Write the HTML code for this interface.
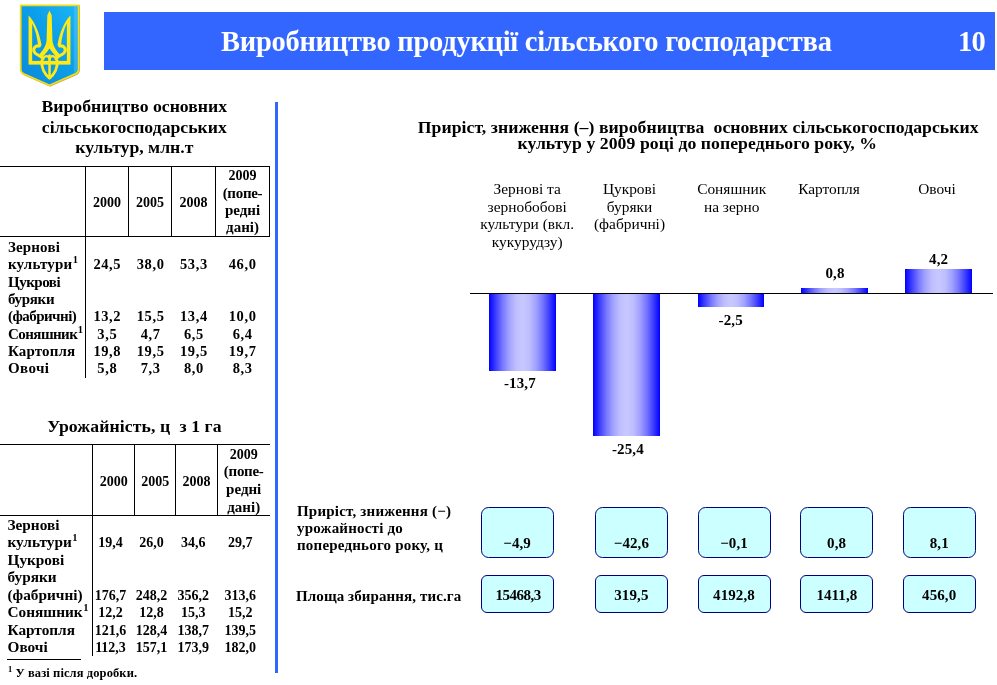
<!DOCTYPE html>
<html lang="uk">
<head>
<meta charset="utf-8">
<title>Виробництво продукції сільського господарства</title>
<style>
html,body{margin:0;padding:0;background:#fff;}
body{width:997px;height:685px;position:relative;overflow:hidden;font-family:"Liberation Serif",serif;color:#000;}
.a{position:absolute;}
.t{position:absolute;white-space:pre;line-height:1;font-weight:bold;}
.r{font-weight:normal;}
.hl{position:absolute;height:1px;background:#000;}
.vl{position:absolute;width:1px;background:#000;}
.bar{position:absolute;background:linear-gradient(to right,#0000ff 0%,#3e3eff 10%,#7676ff 20%,#a2a2ff 30%,#bebeff 40%,#c8c8ff 50%,#bebeff 60%,#a2a2ff 70%,#7676ff 80%,#3e3eff 90%,#0000ff 100%);}
.box{position:absolute;box-sizing:border-box;background:#ccffff;border:1px solid #000080;}
.b1{border-radius:7.5px;}
.b2{border-radius:6px;}
sup.s{font-size:10.5px;line-height:0;vertical-align:baseline;position:relative;top:-6px;letter-spacing:0;margin-left:.5px;}
</style>
</head>
<body>
<!-- header -->
<div class="a" style="left:104px;top:12px;width:890.5px;height:57.5px;background:#3366ff;"></div>
<div class="t" style="left:221px;top:28px;font-size:28.5px;color:#fff;letter-spacing:-.27px;">Виробництво продукції сільського господарства</div>
<div class="t" style="left:958px;top:28px;font-size:28.5px;color:#fff;letter-spacing:-.8px;">10</div>
<!-- emblem -->
<svg class="a" style="left:10px;top:0px;" width="80" height="95" viewBox="0 0 577 685">
<defs>
<linearGradient id="sg" x1="1" y1="0" x2="0" y2="1">
<stop offset="0" stop-color="#1cb6f8"/><stop offset="0.45" stop-color="#0c9ee9"/><stop offset="1" stop-color="#0a88da"/>
</linearGradient>
</defs>
<path d="M77,38 H495 V495 Q495,522 468,535 L285,615 L102,535 Q77,522 77,495 Z" transform="translate(4,4)" fill="none" stroke="#9c8a20" stroke-width="12" stroke-linejoin="round" opacity=".75"/>
<path d="M77,38 H495 V495 Q495,522 468,535 L285,615 L102,535 Q77,522 77,495 Z" fill="url(#sg)" stroke="#f4da18" stroke-width="13" stroke-linejoin="round"/>
<path d="M462,46 H488 V496 Q488,514 470,524 L462,528 Z" fill="#7fdcff" opacity=".28"/>
<g fill="#ffe916" stroke="none">
<path d="M134,112 C180,158 212,238 228,326 L204,338 C197,272 183,215 160,170 L160,440 L134,440 Z"/>
<path d="M436,112 C390,158 358,238 342,326 L366,338 C373,272 387,215 410,170 L410,440 L436,440 Z"/>
<rect x="134" y="439" width="302" height="27"/>
<path d="M285,76 L301,112 L306,290 C310,332 336,368 358,392 L336,412 C310,386 285,350 285,350 C285,350 260,386 234,412 L212,392 C234,368 260,332 264,290 L269,112 Z"/>
</g>
<g fill="none" stroke="#ffe916" stroke-linecap="round">
<path d="M212,332 C182,326 162,350 176,376 C188,398 220,398 238,424" stroke-width="22"/>
<path d="M358,332 C388,326 408,350 394,376 C382,398 350,398 332,424" stroke-width="22"/>
<path d="M230,440 C226,492 252,538 285,562 C318,538 344,492 340,440" stroke-width="22"/>
<path d="M285,400 V556" stroke-width="18"/>
<path d="M234,432 C246,396 278,396 285,426 C292,396 324,396 336,432" stroke-width="16"/>
</g>
</svg>

<!-- vertical blue divider -->
<div class="a" style="left:275px;top:102px;width:3px;height:571px;background:#3366ff;"></div>
<!-- left heading 1 -->
<div class="t" style="left:4.3px;width:260px;text-align:center;top:98px;font-size:17.7px;">Виробництво основних</div>
<div class="t" style="left:4.3px;width:260px;text-align:center;top:119px;font-size:17.7px;">сільськогосподарських</div>
<div class="t" style="left:4.3px;width:260px;text-align:center;top:139px;font-size:17.7px;">культур, млн.т</div>
<!-- table 1 lines -->
<div class="hl" style="left:0px;top:166px;width:270px;"></div>
<div class="hl" style="left:0px;top:236px;width:270px;"></div>
<div class="vl" style="left:85px;top:166px;height:212px;"></div>
<div class="vl" style="left:128px;top:166px;height:70px;"></div>
<div class="vl" style="left:171px;top:166px;height:70px;"></div>
<div class="vl" style="left:215px;top:166px;height:70px;"></div>
<div class="vl" style="left:269px;top:166px;height:71px;"></div>
<!-- table 1 header -->
<div class="t" style="left:86px;width:42px;text-align:center;top:196px;font-size:14px;">2000</div>
<div class="t" style="left:129px;width:42px;text-align:center;top:196px;font-size:14px;">2005</div>
<div class="t" style="left:172.5px;width:42px;text-align:center;top:196px;font-size:14px;">2008</div>
<div class="t" style="left:216.5px;width:52px;text-align:center;top:169px;font-size:14px;">2009</div>
<div class="t" style="left:216.5px;width:52px;text-align:center;top:186px;font-size:15px;letter-spacing:-.3px;">(попе-</div>
<div class="t" style="left:216.5px;width:52px;text-align:center;top:203px;font-size:15px;">редні</div>
<div class="t" style="left:216.5px;width:52px;text-align:center;top:220px;font-size:15px;">дані)</div>
<!-- table 1 body -->
<div class="t" style="left:8px;top:240px;font-size:15px;letter-spacing:0.14px;">Зернові</div>
<div class="t" style="left:8px;top:257px;font-size:15px;letter-spacing:0.15px;">культури<sup class="s">1</sup></div>
<div class="t" style="left:8px;top:275px;font-size:15px;letter-spacing:-0.5px;">Цукрові</div>
<div class="t" style="left:8px;top:292px;font-size:15px;letter-spacing:-0.33px;">буряки</div>
<div class="t" style="left:8px;top:309px;font-size:15px;letter-spacing:-0.54px;">(фабричні)</div>
<div class="t" style="left:8px;top:327px;font-size:15px;letter-spacing:-0.55px;">Соняшник<sup class="s">1</sup></div>
<div class="t" style="left:8px;top:344px;font-size:15px;letter-spacing:0.15px;">Картопля</div>
<div class="t" style="left:8px;top:361px;font-size:15px;letter-spacing:0.4px;">Овочі</div>
<div class="t" style="left:86.3px;width:42px;text-align:center;top:257px;font-size:14.5px;letter-spacing:.6px;">24,5</div>
<div class="t" style="left:129.6px;width:42px;text-align:center;top:257px;font-size:14.5px;letter-spacing:.6px;">38,0</div>
<div class="t" style="left:172.9px;width:42px;text-align:center;top:257px;font-size:14.5px;letter-spacing:.6px;">53,3</div>
<div class="t" style="left:221.6px;width:42px;text-align:center;top:257px;font-size:14.5px;letter-spacing:.6px;">46,0</div>
<div class="t" style="left:86.3px;width:42px;text-align:center;top:309px;font-size:14.5px;letter-spacing:.6px;">13,2</div>
<div class="t" style="left:129.6px;width:42px;text-align:center;top:309px;font-size:14.5px;letter-spacing:.6px;">15,5</div>
<div class="t" style="left:172.9px;width:42px;text-align:center;top:309px;font-size:14.5px;letter-spacing:.6px;">13,4</div>
<div class="t" style="left:221.6px;width:42px;text-align:center;top:309px;font-size:14.5px;letter-spacing:.6px;">10,0</div>
<div class="t" style="left:86.3px;width:42px;text-align:center;top:327px;font-size:14.5px;letter-spacing:.6px;">3,5</div>
<div class="t" style="left:129.6px;width:42px;text-align:center;top:327px;font-size:14.5px;letter-spacing:.6px;">4,7</div>
<div class="t" style="left:172.9px;width:42px;text-align:center;top:327px;font-size:14.5px;letter-spacing:.6px;">6,5</div>
<div class="t" style="left:221.6px;width:42px;text-align:center;top:327px;font-size:14.5px;letter-spacing:.6px;">6,4</div>
<div class="t" style="left:86.3px;width:42px;text-align:center;top:344px;font-size:14.5px;letter-spacing:.6px;">19,8</div>
<div class="t" style="left:129.6px;width:42px;text-align:center;top:344px;font-size:14.5px;letter-spacing:.6px;">19,5</div>
<div class="t" style="left:172.9px;width:42px;text-align:center;top:344px;font-size:14.5px;letter-spacing:.6px;">19,5</div>
<div class="t" style="left:221.6px;width:42px;text-align:center;top:344px;font-size:14.5px;letter-spacing:.6px;">19,7</div>
<div class="t" style="left:86.3px;width:42px;text-align:center;top:361px;font-size:14.5px;letter-spacing:.6px;">5,8</div>
<div class="t" style="left:129.6px;width:42px;text-align:center;top:361px;font-size:14.5px;letter-spacing:.6px;">7,3</div>
<div class="t" style="left:172.9px;width:42px;text-align:center;top:361px;font-size:14.5px;letter-spacing:.6px;">8,0</div>
<div class="t" style="left:221.6px;width:42px;text-align:center;top:361px;font-size:14.5px;letter-spacing:.6px;">8,3</div>
<!-- left heading 2 -->
<div class="t" style="left:4.5px;width:260px;text-align:center;top:418px;font-size:17.7px;letter-spacing:.1px;">Урожайність, ц  з 1 га</div>
<!-- table 2 lines -->
<div class="hl" style="left:0px;top:444px;width:270px;"></div>
<div class="hl" style="left:0px;top:515px;width:270px;"></div>
<div class="vl" style="left:92px;top:444px;height:212px;"></div>
<div class="vl" style="left:134px;top:444px;height:71px;"></div>
<div class="vl" style="left:175px;top:444px;height:71px;"></div>
<div class="vl" style="left:217px;top:444px;height:71px;"></div>
<!-- table 2 header -->
<div class="t" style="left:92.8px;width:42px;text-align:center;top:475px;font-size:14px;">2000</div>
<div class="t" style="left:134.2px;width:42px;text-align:center;top:475px;font-size:14px;">2005</div>
<div class="t" style="left:175.6px;width:42px;text-align:center;top:475px;font-size:14px;">2008</div>
<div class="t" style="left:217.7px;width:52px;text-align:center;top:448px;font-size:14px;">2009</div>
<div class="t" style="left:217.7px;width:52px;text-align:center;top:464px;font-size:15px;letter-spacing:-.3px;">(попе-</div>
<div class="t" style="left:217.7px;width:52px;text-align:center;top:482px;font-size:15px;">редні</div>
<div class="t" style="left:217.7px;width:52px;text-align:center;top:500px;font-size:15px;">дані)</div>
<!-- table 2 body -->
<div class="t" style="left:7.5px;top:517px;font-size:15.3px;">Зернові</div>
<div class="t" style="left:7.5px;top:534px;font-size:15.3px;">культури<sup class="s">1</sup></div>
<div class="t" style="left:7.5px;top:552px;font-size:15.3px;">Цукрові</div>
<div class="t" style="left:7.5px;top:569px;font-size:15.3px;">буряки</div>
<div class="t" style="left:7.5px;top:587px;font-size:15.3px;">(фабричні)</div>
<div class="t" style="left:7.5px;top:604px;font-size:15.3px;">Соняшник<sup class="s">1</sup></div>
<div class="t" style="left:7.5px;top:622px;font-size:15.3px;">Картопля</div>
<div class="t" style="left:7.5px;top:639px;font-size:15.3px;">Овочі</div>
<div class="t" style="left:88.5px;width:44px;text-align:center;top:536px;font-size:14px;">19,4</div>
<div class="t" style="left:129.5px;width:44px;text-align:center;top:536px;font-size:14px;">26,0</div>
<div class="t" style="left:171.3px;width:44px;text-align:center;top:536px;font-size:14px;">34,6</div>
<div class="t" style="left:218.2px;width:44px;text-align:center;top:536px;font-size:14px;">29,7</div>
<div class="t" style="left:88.5px;width:44px;text-align:center;top:589px;font-size:14px;">176,7</div>
<div class="t" style="left:129.5px;width:44px;text-align:center;top:589px;font-size:14px;">248,2</div>
<div class="t" style="left:171.3px;width:44px;text-align:center;top:589px;font-size:14px;">356,2</div>
<div class="t" style="left:218.2px;width:44px;text-align:center;top:589px;font-size:14px;">313,6</div>
<div class="t" style="left:88.5px;width:44px;text-align:center;top:606px;font-size:14px;">12,2</div>
<div class="t" style="left:129.5px;width:44px;text-align:center;top:606px;font-size:14px;">12,8</div>
<div class="t" style="left:171.3px;width:44px;text-align:center;top:606px;font-size:14px;">15,3</div>
<div class="t" style="left:218.2px;width:44px;text-align:center;top:606px;font-size:14px;">15,2</div>
<div class="t" style="left:88.5px;width:44px;text-align:center;top:624px;font-size:14px;">121,6</div>
<div class="t" style="left:129.5px;width:44px;text-align:center;top:624px;font-size:14px;">128,4</div>
<div class="t" style="left:171.3px;width:44px;text-align:center;top:624px;font-size:14px;">138,7</div>
<div class="t" style="left:218.2px;width:44px;text-align:center;top:624px;font-size:14px;">139,5</div>
<div class="t" style="left:88.5px;width:44px;text-align:center;top:641px;font-size:14px;">112,3</div>
<div class="t" style="left:129.5px;width:44px;text-align:center;top:641px;font-size:14px;">157,1</div>
<div class="t" style="left:171.3px;width:44px;text-align:center;top:641px;font-size:14px;">173,9</div>
<div class="t" style="left:218.2px;width:44px;text-align:center;top:641px;font-size:14px;">182,0</div>
<!-- footnote -->
<div class="hl" style="left:7px;top:659px;width:74px;"></div>
<div class="t" style="left:7.5px;top:667px;font-size:12.5px;letter-spacing:.1px;"><sup class="s" style="font-size:8.5px;top:-5px;">1</sup> У вазі після доробки.</div>
<!-- chart title -->
<div class="t" style="left:388.2px;width:620px;text-align:center;top:119px;font-size:17.7px;letter-spacing:.06px;">Приріст, зниження (–) виробництва  основних сільськогосподарських</div>
<div class="t" style="left:387.2px;width:620px;text-align:center;top:135px;font-size:17.7px;letter-spacing:.06px;">культур у 2009 році до попереднього року, %</div>
<!-- category labels -->
<div class="t r" style="left:462.2px;width:130px;text-align:center;top:181px;font-size:15.4px;">Зернові та</div>
<div class="t r" style="left:462.2px;width:130px;text-align:center;top:199px;font-size:15.4px;">зернобобові</div>
<div class="t r" style="left:462.2px;width:130px;text-align:center;top:216px;font-size:15.4px;">культури (вкл.</div>
<div class="t r" style="left:462.2px;width:130px;text-align:center;top:234px;font-size:15.4px;">кукурудзу)</div>
<div class="t r" style="left:564.5px;width:130px;text-align:center;top:181px;font-size:15.4px;">Цукрові</div>
<div class="t r" style="left:564.5px;width:130px;text-align:center;top:199px;font-size:15.4px;">буряки</div>
<div class="t r" style="left:564.5px;width:130px;text-align:center;top:216px;font-size:15.4px;">(фабричні)</div>
<div class="t r" style="left:666.7px;width:130px;text-align:center;top:181px;font-size:15.4px;">Соняшник</div>
<div class="t r" style="left:666.7px;width:130px;text-align:center;top:199px;font-size:15.4px;">на зерно</div>
<div class="t r" style="left:764px;width:130px;text-align:center;top:181px;font-size:15.4px;">Картопля</div>
<div class="t r" style="left:872px;width:130px;text-align:center;top:181px;font-size:15.4px;">Овочі</div>
<!-- bars -->
<div class="bar" style="left:489px;top:294px;width:67px;height:77px;"></div>
<div class="bar" style="left:593px;top:294px;width:67px;height:142px;"></div>
<div class="bar" style="left:698px;top:294px;width:65.5px;height:13px;"></div>
<div class="bar" style="left:801px;top:288px;width:67px;height:5px;"></div>
<div class="bar" style="left:905px;top:269px;width:67px;height:24px;"></div>
<div class="hl" style="left:470px;top:293px;width:523px;"></div>
<!-- bar labels -->
<div class="t" style="left:489.9px;width:60px;text-align:center;top:376px;font-size:15px;letter-spacing:.1px;">-13,7</div>
<div class="t" style="left:597.9px;width:60px;text-align:center;top:442px;font-size:15px;letter-spacing:.1px;">-25,4</div>
<div class="t" style="left:700.7px;width:60px;text-align:center;top:313px;font-size:15px;letter-spacing:.1px;">-2,5</div>
<div class="t" style="left:805px;width:60px;text-align:center;top:266px;font-size:15px;letter-spacing:.1px;">0,8</div>
<div class="t" style="left:908.6px;width:60px;text-align:center;top:252px;font-size:15px;letter-spacing:.1px;">4,2</div>
<!-- bottom labels -->
<div class="t" style="left:297px;top:504px;font-size:15px;letter-spacing:.2px;">Приріст, зниження (−)</div>
<div class="t" style="left:297px;top:521px;font-size:15px;letter-spacing:.2px;">урожайності до</div>
<div class="t" style="left:297px;top:538px;font-size:15px;letter-spacing:.2px;">попереднього року, ц</div>
<div class="t" style="left:296px;top:589px;font-size:15px;letter-spacing:.1px;">Площа збирання, тис.га</div>
<!-- boxes -->
<div class="box b1" style="left:481px;top:506.5px;width:73px;height:51.3px;"></div>
<div class="box b1" style="left:595px;top:506.5px;width:73px;height:51.3px;"></div>
<div class="box b1" style="left:697.5px;top:506.5px;width:73px;height:51.3px;"></div>
<div class="box b1" style="left:800px;top:506.5px;width:73px;height:51.3px;"></div>
<div class="box b1" style="left:902.5px;top:506.5px;width:73px;height:51.3px;"></div>
<div class="box b2" style="left:481px;top:575.2px;width:73px;height:37.6px;"></div>
<div class="box b2" style="left:595px;top:575.2px;width:73px;height:37.6px;"></div>
<div class="box b2" style="left:697.5px;top:575.2px;width:73px;height:37.6px;"></div>
<div class="box b2" style="left:800px;top:575.2px;width:73px;height:37.6px;"></div>
<div class="box b2" style="left:902.5px;top:575.2px;width:73px;height:37.6px;"></div>
<div class="t" style="left:482.1px;width:70px;text-align:center;top:536px;font-size:15px;letter-spacing:.1px;">−4,9</div>
<div class="t" style="left:596.4px;width:70px;text-align:center;top:536px;font-size:15px;letter-spacing:.1px;">−42,6</div>
<div class="t" style="left:699px;width:70px;text-align:center;top:536px;font-size:15px;letter-spacing:.1px;">−0,1</div>
<div class="t" style="left:801.6px;width:70px;text-align:center;top:536px;font-size:15px;letter-spacing:.1px;">0,8</div>
<div class="t" style="left:904.3px;width:70px;text-align:center;top:536px;font-size:15px;letter-spacing:.1px;">8,1</div>
<div class="t" style="left:483px;width:70px;text-align:center;top:588px;font-size:15px;letter-spacing:-.5px;">15468,3</div>
<div class="t" style="left:596.4px;width:70px;text-align:center;top:588px;font-size:15px;letter-spacing:.1px;">319,5</div>
<div class="t" style="left:699px;width:70px;text-align:center;top:588px;font-size:15px;letter-spacing:.1px;">4192,8</div>
<div class="t" style="left:801.9px;width:70px;text-align:center;top:588px;font-size:15px;letter-spacing:.1px;">1411,8</div>
<div class="t" style="left:904.2px;width:70px;text-align:center;top:588px;font-size:15px;letter-spacing:.1px;">456,0</div>
</body>
</html>
